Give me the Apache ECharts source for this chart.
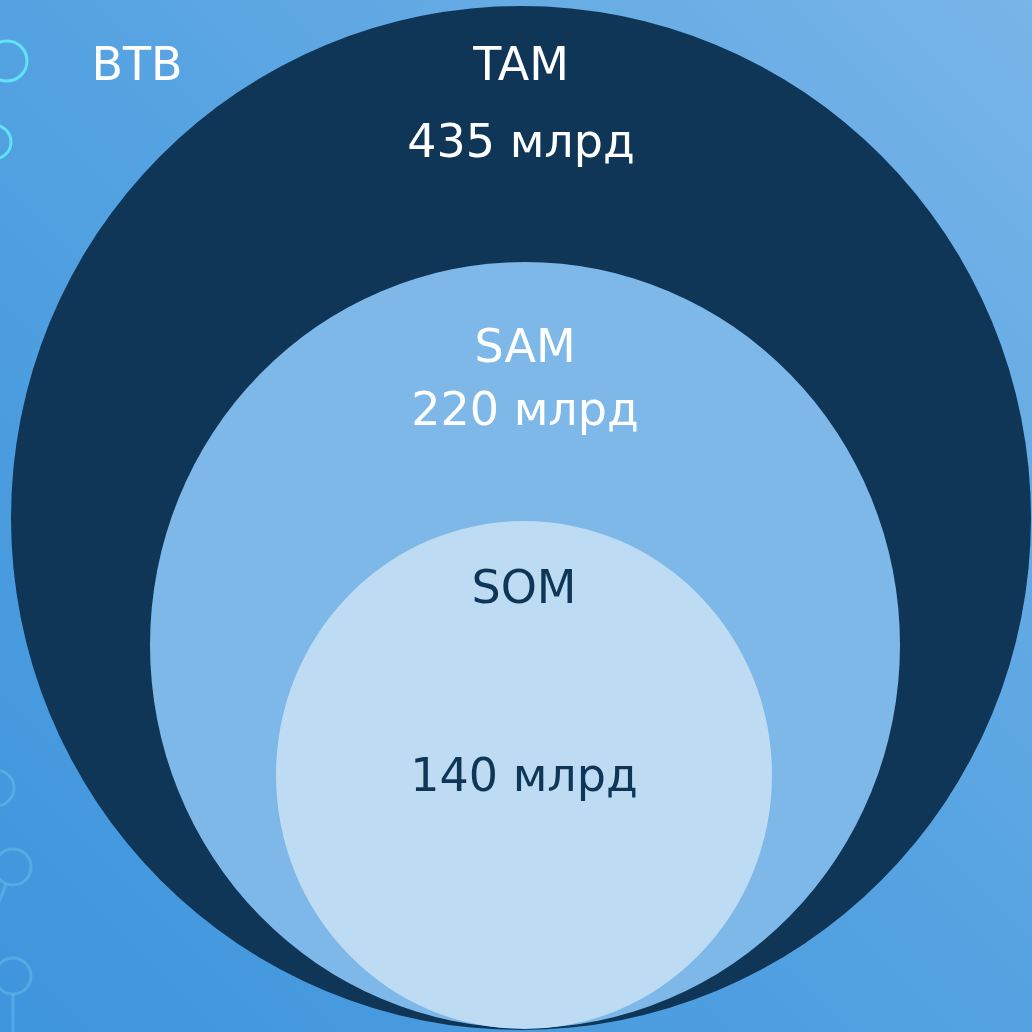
<!DOCTYPE html>
<html>
<head>
<meta charset="utf-8">
<script src="https://cdn.jsdelivr.net/npm/echarts@6/dist/echarts.min.js"></script>
<style>
html,body{margin:0;padding:0;width:1032px;height:1032px;overflow:hidden;}
#chart{width:1032px;height:1032px;}
</style>
</head>
<body>
<div id="chart"></div>
<script>
// ---- data ----
const categories = ['TAM', 'SAM', 'SOM'];
const values = [435, 220, 140];
const unitLabel = 'млрд';
const sideLabel = 'BTB';

// ---- layout (pixel-space geometry, kept out of data) ----
const circleLayout = [
  { cx: 521, cy: 518, rx: 510, ry: 512, nameY: 68,  valueY: 145, fill: '#0f3557', text: '#ffffff' },
  { cx: 525, cy: 645, rx: 375, ry: 383, nameY: 350, valueY: 413, fill: '#7db8e8', text: '#ffffff' },
  { cx: 524, cy: 775, rx: 248, ry: 254, nameY: 591, valueY: 779, fill: '#bddcf3', text: '#0f3557' }
];
const FONT = '"DejaVu Sans", Verdana, sans-serif';

const seriesData = categories.map((c, i) => ({ name: c, value: [i, values[i]] }));

const chart = echarts.init(document.getElementById('chart'), null, { renderer: 'canvas' });

function renderItem(params, api) {
  const i = api.value(0);
  const L = circleLayout[i];
  const c = api.coord([L.cx, L.cy]);
  const s = api.size([L.rx, L.ry]);
  const nameP = api.coord([L.cx, L.nameY]);
  const valP = api.coord([L.cx, L.valueY]);
  return {
    type: 'group',
    children: [
      {
        type: 'circle',
        x: c[0], y: c[1],
        scaleY: s[1] / s[0],
        shape: { cx: 0, cy: 0, r: s[0] },
        style: { fill: L.fill }
      },
      {
        type: 'text',
        x: nameP[0], y: nameP[1],
        style: {
          text: categories[i],
          fill: L.text, font: '46px ' + FONT,
          align: 'center', verticalAlign: 'middle'
        }
      },
      {
        type: 'text',
        x: valP[0], y: valP[1],
        style: {
          text: api.value(1) + ' ' + unitLabel,
          fill: L.text, font: '46px ' + FONT,
          align: 'center', verticalAlign: 'middle'
        }
      }
    ]
  };
}

const faint = 'rgba(120,210,240,0.35)';
const option = {
  backgroundColor: {
    type: 'linear', x: 0, y: 1, x2: 1, y2: 0,
    colorStops: [
      { offset: 0, color: '#3f95dc' },
      { offset: 0.5, color: '#54a2e1' },
      { offset: 1, color: '#78b5e8' }
    ]
  },
  animation: false,
  grid: { left: 0, right: 0, top: 0, bottom: 0 },
  xAxis: { type: 'value', min: 0, max: 1032, show: false },
  yAxis: { type: 'value', min: 0, max: 1032, inverse: true, show: false },
  graphic: [
    { type: 'circle', shape: { cx: 7, cy: 61, r: 20 }, style: { fill: 'none', stroke: '#62e2f6', lineWidth: 3 }, z: 1 },
    { type: 'circle', shape: { cx: -6, cy: 142, r: 17 }, style: { fill: 'none', stroke: '#62e2f6', lineWidth: 3 }, z: 1 },
    { type: 'circle', shape: { cx: -4, cy: 788, r: 18 }, style: { fill: 'none', stroke: faint, lineWidth: 3 }, z: 1 },
    { type: 'circle', shape: { cx: 13, cy: 867, r: 18 }, style: { fill: 'none', stroke: faint, lineWidth: 3 }, z: 1 },
    { type: 'line', shape: { x1: 6, y1: 884, x2: -2, y2: 905 }, style: { stroke: faint, lineWidth: 3 }, z: 1 },
    { type: 'circle', shape: { cx: 13, cy: 976, r: 18 }, style: { fill: 'none', stroke: faint, lineWidth: 3 }, z: 1 },
    { type: 'line', shape: { x1: 13, y1: 994, x2: 13, y2: 1040 }, style: { stroke: faint, lineWidth: 3 }, z: 1 },
    {
      type: 'text', x: 137, y: 68, z: 5,
      style: { text: sideLabel, fill: '#ffffff', font: '46px ' + FONT, align: 'center', verticalAlign: 'middle' }
    }
  ],
  series: [{
    type: 'custom',
    coordinateSystem: 'cartesian2d',
    renderItem: renderItem,
    data: seriesData,
    silent: true,
    clip: false
  }]
};
chart.setOption(option);
</script>
</body>
</html>
